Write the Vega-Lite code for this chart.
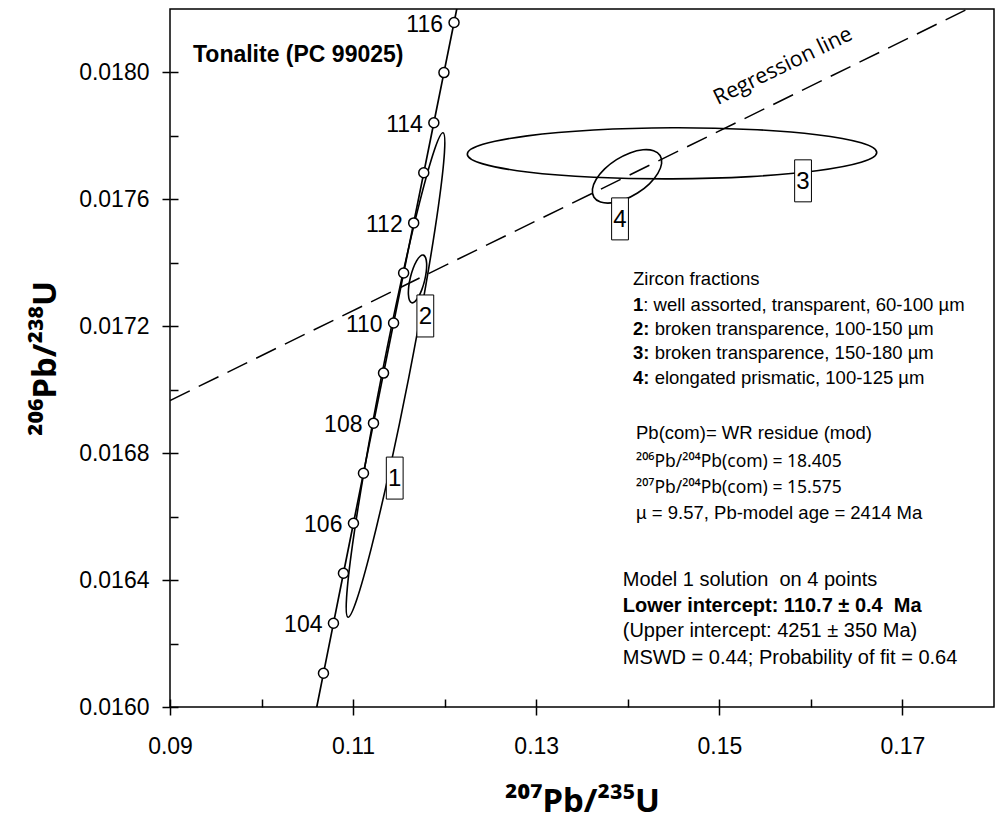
{
  "$schema": "https://vega.github.io/schema/vega-lite/v6.json",
  "width": 824,
  "height": 698,
  "autosize": {"type": "none"},
  "padding": {"left": 170, "top": 9, "right": 1, "bottom": 113},
  "background": "white",
  "config": {
    "view": {"stroke": "black", "strokeWidth": 1.5},
    "font": "Liberation Sans",
    "axis": {"labelColor": "black", "tickColor": "black", "titleColor": "black", "labelFont": "Liberation Sans", "titleFont": "Noto Sans"}
  },
  "datasets": {
    "concordia": [
      {"age": 102.3, "x": 0.1060003, "y": 0.0159959},
      {"age": 103, "x": 0.1067630, "y": 0.0161062},
      {"age": 104, "x": 0.1078536, "y": 0.0162638},
      {"age": 105, "x": 0.1089452, "y": 0.0164215},
      {"age": 106, "x": 0.1100378, "y": 0.0165792},
      {"age": 107, "x": 0.1111316, "y": 0.0167369},
      {"age": 108, "x": 0.1122264, "y": 0.0168946},
      {"age": 109, "x": 0.1133224, "y": 0.0170524},
      {"age": 110, "x": 0.1144193, "y": 0.0172102},
      {"age": 111, "x": 0.1155174, "y": 0.0173680},
      {"age": 112, "x": 0.1166166, "y": 0.0175258},
      {"age": 113, "x": 0.1177168, "y": 0.0176837},
      {"age": 114, "x": 0.1188181, "y": 0.0178415},
      {"age": 115, "x": 0.1199206, "y": 0.0179995},
      {"age": 116, "x": 0.1210241, "y": 0.0181574},
      {"age": 116.3, "x": 0.1213553, "y": 0.0182048}
    ],
    "regression": [
      {"x": 0.09, "y": 0.016966},
      {"x": 0.17714, "y": 0.0182}
    ],
    "ellipses": [
      {"f": 1, "i": 0, "x": 0.119820, "y": 0.0178098},
      {"f": 1, "i": 1, "x": 0.119978, "y": 0.0177486},
      {"f": 1, "i": 2, "x": 0.119324, "y": 0.0175804},
      {"f": 1, "i": 3, "x": 0.117954, "y": 0.0173310},
      {"f": 1, "i": 4, "x": 0.116079, "y": 0.0170382},
      {"f": 1, "i": 5, "x": 0.113983, "y": 0.0167467},
      {"f": 1, "i": 6, "x": 0.111986, "y": 0.0165008},
      {"f": 1, "i": 7, "x": 0.110392, "y": 0.0163380},
      {"f": 1, "i": 8, "x": 0.109443, "y": 0.0162830},
      {"f": 1, "i": 9, "x": 0.109285, "y": 0.0163442},
      {"f": 1, "i": 10, "x": 0.109939, "y": 0.0165124},
      {"f": 1, "i": 11, "x": 0.111309, "y": 0.0167618},
      {"f": 1, "i": 12, "x": 0.113184, "y": 0.0170546},
      {"f": 1, "i": 13, "x": 0.115280, "y": 0.0173461},
      {"f": 1, "i": 14, "x": 0.117277, "y": 0.0175920},
      {"f": 1, "i": 15, "x": 0.118870, "y": 0.0177548},
      {"f": 2, "i": 0, "x": 0.117667, "y": 0.0174243},
      {"f": 2, "i": 1, "x": 0.117915, "y": 0.0174165},
      {"f": 2, "i": 2, "x": 0.118029, "y": 0.0173985},
      {"f": 2, "i": 3, "x": 0.117993, "y": 0.0173729},
      {"f": 2, "i": 4, "x": 0.117809, "y": 0.0173438},
      {"f": 2, "i": 5, "x": 0.117508, "y": 0.0173155},
      {"f": 2, "i": 6, "x": 0.117135, "y": 0.0172922},
      {"f": 2, "i": 7, "x": 0.116746, "y": 0.0172777},
      {"f": 2, "i": 8, "x": 0.116402, "y": 0.0172741},
      {"f": 2, "i": 9, "x": 0.116154, "y": 0.0172819},
      {"f": 2, "i": 10, "x": 0.116041, "y": 0.0172999},
      {"f": 2, "i": 11, "x": 0.116077, "y": 0.0173255},
      {"f": 2, "i": 12, "x": 0.116260, "y": 0.0173546},
      {"f": 2, "i": 13, "x": 0.116562, "y": 0.0173830},
      {"f": 2, "i": 14, "x": 0.116934, "y": 0.0174062},
      {"f": 2, "i": 15, "x": 0.117323, "y": 0.0174207},
      {"f": 3, "i": 0, "x": 0.167193, "y": 0.0177477},
      {"f": 3, "i": 1, "x": 0.165491, "y": 0.0177167},
      {"f": 3, "i": 2, "x": 0.160644, "y": 0.0176901},
      {"f": 3, "i": 3, "x": 0.153389, "y": 0.0176718},
      {"f": 3, "i": 4, "x": 0.144844, "y": 0.0176647},
      {"f": 3, "i": 5, "x": 0.136278, "y": 0.0176698},
      {"f": 3, "i": 6, "x": 0.129022, "y": 0.0176864},
      {"f": 3, "i": 7, "x": 0.124176, "y": 0.0177119},
      {"f": 3, "i": 8, "x": 0.122474, "y": 0.0177425},
      {"f": 3, "i": 9, "x": 0.124176, "y": 0.0177735},
      {"f": 3, "i": 10, "x": 0.129022, "y": 0.0178002},
      {"f": 3, "i": 11, "x": 0.136278, "y": 0.0178185},
      {"f": 3, "i": 12, "x": 0.144833, "y": 0.0178256},
      {"f": 3, "i": 13, "x": 0.153389, "y": 0.0178204},
      {"f": 3, "i": 14, "x": 0.160644, "y": 0.0178038},
      {"f": 3, "i": 15, "x": 0.165491, "y": 0.0177783},
      {"f": 4, "i": 0, "x": 0.143531, "y": 0.0177383},
      {"f": 4, "i": 1, "x": 0.143695, "y": 0.0177131},
      {"f": 4, "i": 2, "x": 0.143285, "y": 0.0176818},
      {"f": 4, "i": 3, "x": 0.142362, "y": 0.0176490},
      {"f": 4, "i": 4, "x": 0.141066, "y": 0.0176199},
      {"f": 4, "i": 5, "x": 0.139596, "y": 0.0175987},
      {"f": 4, "i": 6, "x": 0.138175, "y": 0.0175888},
      {"f": 4, "i": 7, "x": 0.137019, "y": 0.0175917},
      {"f": 4, "i": 8, "x": 0.136305, "y": 0.0176068},
      {"f": 4, "i": 9, "x": 0.136141, "y": 0.0176320},
      {"f": 4, "i": 10, "x": 0.136552, "y": 0.0176634},
      {"f": 4, "i": 11, "x": 0.137475, "y": 0.0176961},
      {"f": 4, "i": 12, "x": 0.138770, "y": 0.0177252},
      {"f": 4, "i": 13, "x": 0.140240, "y": 0.0177464},
      {"f": 4, "i": 14, "x": 0.141662, "y": 0.0177563},
      {"f": 4, "i": 15, "x": 0.142817, "y": 0.0177534}
    ],
    "boxes": [
      {"n": "1", "x": 0.114544, "y": 0.0167215},
      {"n": "2", "x": 0.117887, "y": 0.0172325},
      {"n": "3", "x": 0.159143, "y": 0.0176584},
      {"n": "4", "x": 0.139153, "y": 0.0175385}
    ],
    "notes": [
      {"x": 0.140574, "y": 0.0173483, "t": "Zircon fractions"},
      {"x": 0.140901, "y": 0.0168625, "t": "Pb(com)= WR residue (mod)"},
      {"x": 0.140901, "y": 0.0166120, "t": "µ = 9.57, Pb-model age = 2414 Ma"}
    ],
    "isotopes": [
      {"x": 0.140901, "y": 0.0167710, "t": "²⁰⁶Pb/²⁰⁴Pb(com) = 18.405"},
      {"x": 0.140901, "y": 0.0166909, "t": "²⁰⁷Pb/²⁰⁴Pb(com) = 15.575"}
    ],
    "fractions": [
      {"n": 1, "x": 0.140574, "y": 0.0172672, "p": "1", "r": ": well assorted, transparent, 60-100 µm"},
      {"n": 2, "x": 0.140574, "y": 0.0171905, "p": "2:", "r": "broken transparence, 100-150 µm"},
      {"n": 3, "x": 0.140574, "y": 0.0171148, "p": "3:", "r": "broken transparence, 150-180 µm"},
      {"n": 4, "x": 0.140574, "y": 0.0170379, "p": "4:", "r": "elongated prismatic, 100-125 µm"}
    ],
    "model": [
      {"x": 0.139448, "y": 0.0163997, "t": "Model 1 solution\u00a0 on 4 points"},
      {"x": 0.139448, "y": 0.0162397, "t": "(Upper intercept: 4251 ± 350 Ma)"},
      {"x": 0.139448, "y": 0.0161558, "t": "MSWD = 0.44; Probability of fit = 0.64"}
    ],
    "modelBold": [
      {"x": 0.139448, "y": 0.0163186, "t": "Lower intercept: 110.7 ± 0.4\u00a0 Ma"}
    ],
    "sample": [
      {"x": 0.092512, "y": 0.0180536, "t": "Tonalite (PC 99025)"}
    ],
    "regLabel": [
      {"x": 0.157264, "y": 0.0180016, "t": "Regression line"}
    ]
  },
  "layer": [
    {
      "data": {"name": "ellipses"},
      "mark": {"type": "line", "interpolate": "cardinal-closed", "stroke": "black", "strokeWidth": 1.6, "clip": true},
      "encoding": {
        "x": {"field": "x", "type": "quantitative", "scale": {"domain": [0.09, 0.18], "nice": false, "zero": false}, "axis": null},
        "y": {"field": "y", "type": "quantitative", "scale": {"domain": [0.016, 0.0182], "nice": false, "zero": false}, "axis": null},
        "detail": {"field": "f", "type": "nominal"},
        "order": {"field": "i", "type": "quantitative"}
      }
    },
    {
      "data": {"name": "concordia"},
      "mark": {"type": "line", "stroke": "black", "strokeWidth": 1.7, "clip": true},
      "encoding": {
        "x": {
          "field": "x", "type": "quantitative",
          "scale": {"domain": [0.09, 0.18], "nice": false, "zero": false},
          "axis": {
            "orient": "bottom", "values": [0.09, 0.11, 0.13, 0.15, 0.17], "format": ".2f",
            "domain": false, "grid": false, "tickSize": 8, "tickWidth": 1.5,
            "labelFontSize": 23, "labelPadding": 20, "labelFlush": false, "labelOverlap": false, "labelBound": false,
            "title": "²⁰⁷Pb/²³⁵U", "titleFontSize": 33, "titleFontWeight": "bold",
            "titleX": 412, "titleY": 104, "titleBaseline": "alphabetic", "titleAlign": "center"
          }
        },
        "y": {
          "field": "y", "type": "quantitative",
          "scale": {"domain": [0.016, 0.0182], "nice": false, "zero": false},
          "axis": {
            "orient": "left", "values": [0.016, 0.0164, 0.0168, 0.0172, 0.0176, 0.018], "format": ".4f",
            "domain": false, "grid": false, "tickSize": 8, "tickWidth": 1.5,
            "labelFontSize": 23, "labelPadding": 13, "labelFlush": false, "labelOverlap": false, "labelBound": false,
            "title": "²⁰⁶Pb/²³⁸U", "titleFontSize": 33, "titleFontWeight": "bold",
            "titleX": -115, "titleY": 349, "titleAngle": 270, "titleBaseline": "alphabetic", "titleAlign": "center"
          }
        },
        "order": {"field": "age", "type": "quantitative"}
      }
    },
    {
      "data": {"name": "regression"},
      "mark": {"type": "line", "stroke": "black", "strokeWidth": 1.5, "strokeDash": [22, 10], "clip": true},
      "encoding": {
        "x": {
          "field": "x", "type": "quantitative",
          "scale": {"domain": [0.09, 0.18], "nice": false, "zero": false},
          "axis": {
            "orient": "bottom", "values": [0.09, 0.10, 0.11, 0.12, 0.13, 0.14, 0.15, 0.16, 0.17],
            "offset": -8, "tickSize": 8, "tickWidth": 1.5, "domain": false, "grid": false, "labels": false, "title": null
          }
        },
        "y": {
          "field": "y", "type": "quantitative",
          "scale": {"domain": [0.016, 0.0182], "nice": false, "zero": false},
          "axis": {
            "orient": "left", "values": [0.016, 0.0162, 0.0164, 0.0166, 0.0168, 0.017, 0.0172, 0.0174, 0.0176, 0.0178, 0.018],
            "offset": -8, "tickSize": 8, "tickWidth": 1.5, "domain": false, "grid": false, "labels": false, "title": null
          }
        }
      }
    },
    {
      "data": {"name": "concordia"},
      "transform": [{"filter": "datum.age >= 103 && datum.age <= 116"}],
      "mark": {"type": "point", "shape": "circle", "filled": true, "fill": "white", "stroke": "black", "strokeWidth": 1.5, "size": 100, "opacity": 1},
      "encoding": {
        "x": {"field": "x", "type": "quantitative", "scale": {"domain": [0.09, 0.18], "nice": false, "zero": false}, "axis": null},
        "y": {"field": "y", "type": "quantitative", "scale": {"domain": [0.016, 0.0182], "nice": false, "zero": false}, "axis": null}
      }
    },
    {
      "data": {"name": "concordia"},
      "transform": [{"filter": "datum.age >= 104 && datum.age <= 116 && datum.age % 2 === 0"}],
      "mark": {"type": "text", "align": "right", "baseline": "middle", "dx": -11, "dy": 2, "fontSize": 23, "font": "Liberation Sans", "color": "black"},
      "encoding": {
        "x": {"field": "x", "type": "quantitative", "scale": {"domain": [0.09, 0.18], "nice": false, "zero": false}, "axis": null},
        "y": {"field": "y", "type": "quantitative", "scale": {"domain": [0.016, 0.0182], "nice": false, "zero": false}, "axis": null},
        "text": {"field": "age", "type": "quantitative", "format": "d"}
      }
    },
    {
      "data": {"name": "boxes"},
      "mark": {"type": "point", "shape": "M-0.4,-1H0.4V1H-0.4Z", "filled": true, "fill": "white", "stroke": "black", "strokeWidth": 1, "size": 1764, "opacity": 1},
      "encoding": {
        "x": {"field": "x", "type": "quantitative", "scale": {"domain": [0.09, 0.18], "nice": false, "zero": false}, "axis": null},
        "y": {"field": "y", "type": "quantitative", "scale": {"domain": [0.016, 0.0182], "nice": false, "zero": false}, "axis": null}
      }
    },
    {
      "data": {"name": "boxes"},
      "mark": {"type": "text", "align": "center", "baseline": "middle", "dy": 1, "fontSize": 24, "font": "Liberation Sans", "color": "black"},
      "encoding": {
        "x": {"field": "x", "type": "quantitative", "scale": {"domain": [0.09, 0.18], "nice": false, "zero": false}, "axis": null},
        "y": {"field": "y", "type": "quantitative", "scale": {"domain": [0.016, 0.0182], "nice": false, "zero": false}, "axis": null},
        "text": {"field": "n", "type": "nominal"}
      }
    },
    {
      "data": {"name": "sample"},
      "mark": {"type": "text", "align": "left", "baseline": "middle", "fontSize": 23, "fontWeight": "bold", "font": "Liberation Sans", "color": "black"},
      "encoding": {
        "x": {"field": "x", "type": "quantitative", "scale": {"domain": [0.09, 0.18], "nice": false, "zero": false}, "axis": null},
        "y": {"field": "y", "type": "quantitative", "scale": {"domain": [0.016, 0.0182], "nice": false, "zero": false}, "axis": null},
        "text": {"field": "t", "type": "nominal"}
      }
    },
    {
      "data": {"name": "regLabel"},
      "mark": {"type": "text", "align": "center", "baseline": "alphabetic", "angle": 334, "fontSize": 21.5, "font": "Open Sans", "color": "black"},
      "encoding": {
        "x": {"field": "x", "type": "quantitative", "scale": {"domain": [0.09, 0.18], "nice": false, "zero": false}, "axis": null},
        "y": {"field": "y", "type": "quantitative", "scale": {"domain": [0.016, 0.0182], "nice": false, "zero": false}, "axis": null},
        "text": {"field": "t", "type": "nominal"}
      }
    },
    {
      "data": {"name": "notes"},
      "mark": {"type": "text", "align": "left", "baseline": "middle", "fontSize": 18.5, "font": "Liberation Sans", "color": "black"},
      "encoding": {
        "x": {"field": "x", "type": "quantitative", "scale": {"domain": [0.09, 0.18], "nice": false, "zero": false}, "axis": null},
        "y": {"field": "y", "type": "quantitative", "scale": {"domain": [0.016, 0.0182], "nice": false, "zero": false}, "axis": null},
        "text": {"field": "t", "type": "nominal"}
      }
    },
    {
      "data": {"name": "isotopes"},
      "mark": {"type": "text", "align": "left", "baseline": "middle", "fontSize": 17.5, "font": "Noto Sans", "color": "black"},
      "encoding": {
        "x": {"field": "x", "type": "quantitative", "scale": {"domain": [0.09, 0.18], "nice": false, "zero": false}, "axis": null},
        "y": {"field": "y", "type": "quantitative", "scale": {"domain": [0.016, 0.0182], "nice": false, "zero": false}, "axis": null},
        "text": {"field": "t", "type": "nominal"}
      }
    },
    {
      "data": {"name": "fractions"},
      "mark": {"type": "text", "align": "left", "baseline": "middle", "fontSize": 18.5, "fontWeight": "bold", "font": "Liberation Sans", "color": "black"},
      "encoding": {
        "x": {"field": "x", "type": "quantitative", "scale": {"domain": [0.09, 0.18], "nice": false, "zero": false}, "axis": null},
        "y": {"field": "y", "type": "quantitative", "scale": {"domain": [0.016, 0.0182], "nice": false, "zero": false}, "axis": null},
        "text": {"field": "p", "type": "nominal"}
      }
    },
    {
      "data": {"name": "fractions"},
      "transform": [{"filter": "datum.n === 1"}],
      "mark": {"type": "text", "align": "left", "baseline": "middle", "dx": 10.3, "fontSize": 18.5, "font": "Liberation Sans", "color": "black"},
      "encoding": {
        "x": {"field": "x", "type": "quantitative", "scale": {"domain": [0.09, 0.18], "nice": false, "zero": false}, "axis": null},
        "y": {"field": "y", "type": "quantitative", "scale": {"domain": [0.016, 0.0182], "nice": false, "zero": false}, "axis": null},
        "text": {"field": "r", "type": "nominal"}
      }
    },
    {
      "data": {"name": "fractions"},
      "transform": [{"filter": "datum.n > 1"}],
      "mark": {"type": "text", "align": "left", "baseline": "middle", "dx": 21.6, "fontSize": 18.5, "font": "Liberation Sans", "color": "black"},
      "encoding": {
        "x": {"field": "x", "type": "quantitative", "scale": {"domain": [0.09, 0.18], "nice": false, "zero": false}, "axis": null},
        "y": {"field": "y", "type": "quantitative", "scale": {"domain": [0.016, 0.0182], "nice": false, "zero": false}, "axis": null},
        "text": {"field": "r", "type": "nominal"}
      }
    },
    {
      "data": {"name": "model"},
      "mark": {"type": "text", "align": "left", "baseline": "middle", "fontSize": 20, "font": "Liberation Sans", "color": "black"},
      "encoding": {
        "x": {"field": "x", "type": "quantitative", "scale": {"domain": [0.09, 0.18], "nice": false, "zero": false}, "axis": null},
        "y": {"field": "y", "type": "quantitative", "scale": {"domain": [0.016, 0.0182], "nice": false, "zero": false}, "axis": null},
        "text": {"field": "t", "type": "nominal"}
      }
    },
    {
      "data": {"name": "modelBold"},
      "mark": {"type": "text", "align": "left", "baseline": "middle", "fontSize": 20, "fontWeight": "bold", "font": "Liberation Sans", "color": "black"},
      "encoding": {
        "x": {"field": "x", "type": "quantitative", "scale": {"domain": [0.09, 0.18], "nice": false, "zero": false}, "axis": null},
        "y": {"field": "y", "type": "quantitative", "scale": {"domain": [0.016, 0.0182], "nice": false, "zero": false}, "axis": null},
        "text": {"field": "t", "type": "nominal"}
      }
    }
  ],
  "resolve": {"axis": {"x": "independent", "y": "independent"}}
}
